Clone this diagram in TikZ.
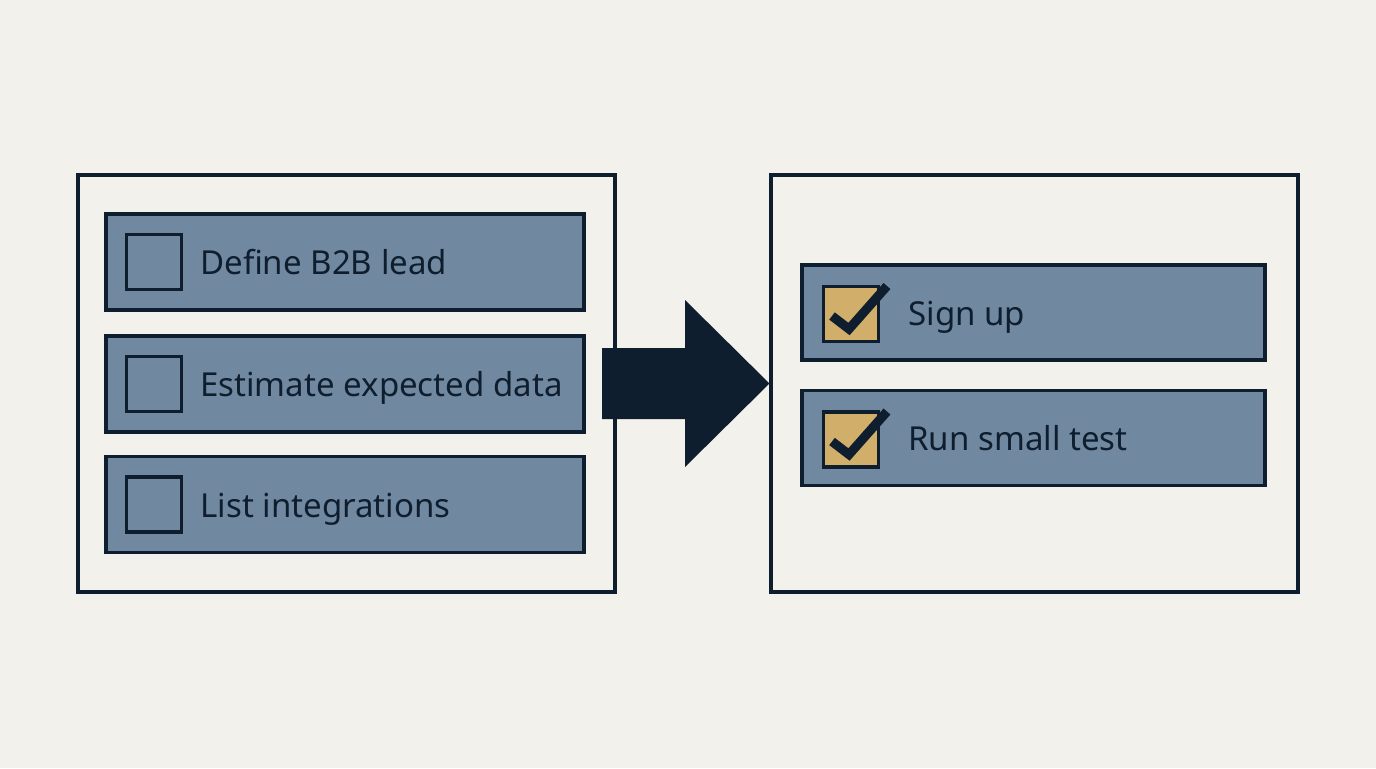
\documentclass[tikz,border=0pt]{standalone}
\usepackage{fontspec}
\setmainfont{Noto Sans}
\usetikzlibrary{positioning}
\definecolor{ink}{HTML}{0F1E2E}
\definecolor{paper}{HTML}{F3F1EB}
\definecolor{slate}{HTML}{7089A0}
\definecolor{gold}{HTML}{D1AE6A}

\begin{document}
\begin{tikzpicture}[x=0.02cm, y=-0.02cm,
          panel/.style={draw=ink, line width=1.8pt, minimum width=10.74cm, minimum height=8.34cm, inner sep=0pt},
          item/.style={draw=ink, fill=slate, line width=2pt, minimum width=9.56cm, minimum height=1.92cm, inner sep=0pt},
          box/.style={draw=ink, line width=2pt, minimum size=1.1cm, inner sep=0pt},
          done/.style={box, fill=gold},
          lbl/.style={anchor=base west, text=ink, font=\fontsize{18.8}{23}\selectfont, inner sep=0pt}]
        \fill[paper] (0,0) rectangle (1376,768);
        \useasboundingbox (0,0) rectangle (1376,768);
        % panels
        \node[panel] (todo) at (346.5,383.5) {};
        \node[panel, minimum width=10.54cm] (done) at (1034.5,383.5) {};
        % open items
        \foreach \n/\y/\t in {1/262/Define B2B lead, 2/384/Estimate expected data, 3/504.5/List integrations}{
          \node[item] (a\n) at (345,\y) {};
          \node[box] (b\n) at (154,\y) {};
          \node[lbl] (t\n) at (200,\y+12.5) {\t};}
        % finished items
        \foreach \n/\y/\t in {1/312.5/Sign up, 2/438/Run small test}{
          \node[item, minimum width=9.26cm, minimum height=1.9cm] (c\n) at (1033.5,\y) {};
          \node[done] (d\n) at (851,\y+1.5) {};
          \draw[ink, line width=5.2pt, line join=miter] ([xshift=-0.38cm, yshift=-0.04cm]d\n.center) -- ([xshift=-0.04cm, yshift=-0.3cm]d\n.center) -- ([xshift=0.72cm, yshift=0.56cm]d\n.center);
          \node[lbl] (s\n) at (908,\y+12.5) {\t};}
        % arrow between the panels
        \coordinate (tip) at (done.west);
        \fill[ink] (602,348) -- (685,348) -- (685,300) -- (tip) -- (685,467) -- (685,419) -- (602,419) -- cycle;
      \end{tikzpicture}
\end{document}
